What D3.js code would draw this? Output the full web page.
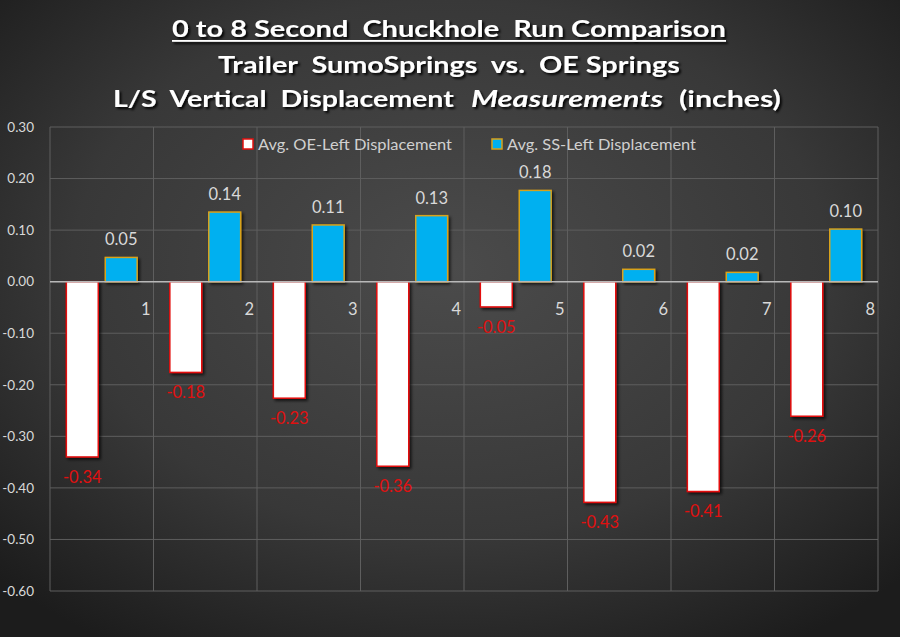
<!DOCTYPE html>
<html>
<head>
<meta charset="utf-8">
<script src="https://cdn.jsdelivr.net/npm/d3@7"></script>
<style>
  body { margin: 0; background: #2b2b2b; }
  svg { display: block; }
</style>
</head>
<body>
<svg></svg>
<script>
"use strict";

// chart data
var categories = ["1", "2", "3", "4", "5", "6", "7", "8"];
var seriesNames = ["Avg. OE-Left Displacement", "Avg. SS-Left Displacement"];
var oeValues = [-0.34, -0.176, -0.226, -0.358, -0.049, -0.428, -0.407, -0.261];
var ssValues = [0.047, 0.135, 0.11, 0.128, 0.177, 0.024, 0.018, 0.102];
var yTicks = [0.3, 0.2, 0.1, 0, -0.1, -0.2, -0.3, -0.4, -0.5, -0.6];
var titleLines = ["0 to 8 Second  Chuckhole  Run Comparison", "Trailer  SumoSprings  vs.  OE Springs"];

var width = 900,
    height = 637;

var svg = d3.select("svg")
    .attr("width", width)
    .attr("height", height);

var defs = svg.append("defs");

var bg = defs.append("radialGradient")
    .attr("id", "bg")
    .attr("cx", "50%").attr("cy", "42%").attr("r", "70%");
bg.append("stop").attr("offset", "0%").attr("stop-color", "#4b4b4b");
bg.append("stop").attr("offset", "60%").attr("stop-color", "#383838");
bg.append("stop").attr("offset", "100%").attr("stop-color", "#1c1c1c");

defs.append("filter").attr("id", "shadow")
    .attr("x", "-20%").attr("y", "-20%").attr("width", "150%").attr("height", "150%")
    .append("feDropShadow")
    .attr("dx", 2).attr("dy", 2).attr("stdDeviation", 1.5)
    .attr("flood-color", "#000").attr("flood-opacity", 0.7);

defs.append("filter").attr("id", "tshadow")
    .attr("x", "-5%").attr("y", "-30%").attr("width", "110%").attr("height", "160%")
    .append("feDropShadow")
    .attr("dx", 2).attr("dy", 2).attr("stdDeviation", 1.2)
    .attr("flood-color", "#000").attr("flood-opacity", 0.9);

svg.append("rect")
    .attr("width", width)
    .attr("height", height)
    .attr("fill", "url(#bg)");

// scales
var x = d3.scaleBand()
    .domain(categories)
    .range([50, 878]);

var inner = d3.scaleBand()
    .domain([0, 1])
    .range([0, x.bandwidth()])
    .paddingInner(0.18)
    .paddingOuter(0.42);

var y = d3.scaleLinear()
    .domain([-0.6, 0.3])
    .range([591, 127]);

// grid
var grid = svg.append("g");
grid.selectAll("line.h").data(yTicks).enter()
    .append("line")
    .attr("class", "h")
    .attr("x1", 50).attr("x2", 878)
    .attr("y1", function (d) { return y(d); })
    .attr("y2", function (d) { return y(d); })
    .attr("stroke", "#5e5e5e")
    .attr("stroke-width", 1);

grid.selectAll("line.v").data(d3.range(categories.length + 1)).enter()
    .append("line")
    .attr("class", "v")
    .attr("x1", function (i) { return 50 + i * x.step(); })
    .attr("x2", function (i) { return 50 + i * x.step(); })
    .attr("y1", y(0.3)).attr("y2", y(-0.6))
    .attr("stroke", "#5e5e5e")
    .attr("stroke-width", 1);

// y axis labels
var yAxis = svg.append("g")
    .attr("transform", "translate(50,0)")
    .call(d3.axisLeft(y)
        .tickValues(yTicks)
        .tickSize(0)
        .tickPadding(16)
        .tickFormat(function (d) { return d.toFixed(2); }));
yAxis.select(".domain").remove();
yAxis.selectAll("text")
    .attr("fill", "#d9d9d9")
    .style("font-family", "Lato, 'Open Sans', sans-serif")
    .style("font-size", "13.5px");

// bars
var barData = categories.map(function (c, i) {
    return [{ c: c, s: 0, v: oeValues[i] }, { c: c, s: 1, v: ssValues[i] }];
});
var flat = d3.merge(barData);

svg.append("g").selectAll("rect").data(flat).enter()
    .append("rect")
    .attr("x", function (d) { return x(d.c) + inner(d.s); })
    .attr("width", inner.bandwidth())
    .attr("y", function (d) { return y(Math.max(0, d.v)); })
    .attr("height", function (d) { return Math.abs(y(d.v) - y(0)); })
    .attr("fill", function (d) { return d.s === 0 ? "#ffffff" : "#00b0f0"; })
    .attr("stroke", function (d) { return d.s === 0 ? "#e3100f" : "#d8a21b"; })
    .attr("stroke-width", 1.5)
    .attr("filter", "url(#shadow)");

// zero line
svg.append("line")
    .attr("x1", 50).attr("x2", 878)
    .attr("y1", y(0)).attr("y2", y(0))
    .attr("stroke", "#b8b8b8")
    .attr("stroke-width", 1.5);

// data labels
svg.append("g").selectAll("text").data(flat).enter()
    .append("text")
    .attr("x", function (d) { return x(d.c) + inner(d.s) + inner.bandwidth() / 2; })
    .attr("y", function (d) { return d.v < 0 ? y(d.v) + 26 : y(d.v) - 12; })
    .attr("text-anchor", "middle")
    .attr("fill", function (d) { return d.s === 0 ? "#e01010" : "#d9d9d9"; })
    .style("font-family", "Lato, 'Open Sans', sans-serif")
    .style("font-size", "16.5px")
    .text(function (d) { return d.v.toFixed(2); });

// category labels sit at the right end of each band
svg.append("g").selectAll("text").data(categories).enter()
    .append("text")
    .attr("x", function (d) { return x(d) + x.bandwidth() - 3; })
    .attr("y", y(0) + 33)
    .attr("text-anchor", "end")
    .attr("fill", "#d9d9d9")
    .style("font-family", "Lato, 'Open Sans', sans-serif")
    .style("font-size", "16.5px")
    .text(function (d) { return d; });

// legend
var legendX = [243, 492];
var legendW = [194, 189];
var legend = svg.append("g").selectAll("g").data(seriesNames).enter()
    .append("g")
    .attr("transform", function (d, i) { return "translate(" + legendX[i] + ",144)"; });
legend.append("rect")
    .attr("x", 0).attr("y", -5)
    .attr("width", 10).attr("height", 10)
    .attr("fill", function (d, i) { return i === 0 ? "#ffffff" : "#00b0f0"; })
    .attr("stroke", function (d, i) { return i === 0 ? "#e3100f" : "#d8a21b"; })
    .attr("stroke-width", 1.5);
legend.append("text")
    .attr("x", 15).attr("y", 5.5)
    .attr("fill", "#d0d0d0")
    .attr("textLength", function (d, i) { return legendW[i]; })
    .attr("lengthAdjust", "spacingAndGlyphs")
    .style("font-family", "Lato, 'Open Sans', sans-serif")
    .style("font-size", "15.5px")
    .text(function (d) { return d; });

// title, each piece squeezed horizontally to the width it has in the picture
var title = svg.append("g")
    .attr("filter", "url(#tshadow)")
    .style("font-family", "Lato, 'Open Sans', sans-serif")
    .style("font-weight", "bold")
    .style("font-size", "23px")
    .attr("fill", "#ffffff");

function fitText(str, left, baseline, w, italic) {
    var text = title.append("text")
        .style("white-space", "pre")
        .style("font-style", italic ? "italic" : "normal")
        .text(str);
    var natural = text.node().getComputedTextLength();
    text.attr("transform", "translate(" + left + "," + baseline + ") scale(" + (w / natural) + ",1)");
    return text;
}

fitText(titleLines[0], 172, 37, 554, false);
title.append("rect")
    .attr("x", 172).attr("y", 40)
    .attr("width", 554).attr("height", 1.8);

fitText(titleLines[1], 218, 73, 462, false);

fitText("L/S  Vertical  Displacement", 113, 107, 341, false);
fitText("Measurements", 471, 107, 192, true);
fitText("(inches)", 679, 107, 102, false);
</script>
</body>
</html>
